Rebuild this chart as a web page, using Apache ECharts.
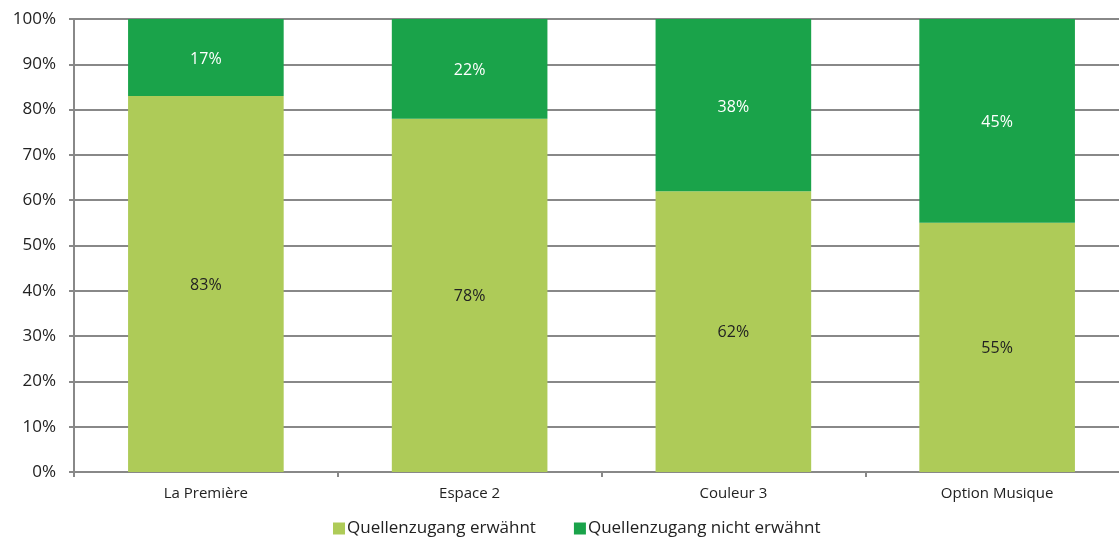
<!DOCTYPE html>
<html><head><meta charset="utf-8">
<script src="https://cdn.jsdelivr.net/npm/echarts@6/dist/echarts.min.js"></script>
<style>html,body{margin:0;padding:0;background:#fff;overflow:hidden;width:1119px;height:539px}#c{width:1130px;height:539px}</style>
</head><body><div id="c"></div>
<script>
const categories = ['La Première', 'Espace 2', 'Couleur 3', 'Option Musique'];
const erwaehnt = [83, 78, 62, 55];
const nichtErwaehnt = [17, 22, 38, 45];
const seriesNames = ['Quellenzugang erwähnt', 'Quellenzugang nicht erwähnt'];
const font = 'Open Sans';
const chart = echarts.init(document.getElementById('c'));
chart.setOption({
  animation: false,
  textStyle: { fontFamily: font },
  grid: { left: 74, right: 1, top: 19, bottom: 67, containLabel: false },
  legend: {
    top: 515, left: 328, itemWidth: 12, itemHeight: 12, itemGap: 38,
    icon: 'rect',
    textStyle: { fontSize: 17, color: '#222', fontFamily: font, padding: [0, 0, 0, -3] },
    data: seriesNames
  },
  xAxis: {
    type: 'category', data: categories,
    axisLine: { lineStyle: { color: '#888', width: 2 } },
    axisTick: { show: true, length: 5, lineStyle: { color: '#888', width: 2 } },
    axisLabel: { fontSize: 15, color: '#222', margin: 14, fontFamily: font }
  },
  yAxis: {
    type: 'value', min: 0, max: 100, interval: 10,
    axisLine: { show: true, lineStyle: { color: '#888', width: 2 } },
    axisTick: { show: true, length: 5, lineStyle: { color: '#888', width: 2 } },
    splitLine: { lineStyle: { color: '#888', width: 2 } },
    axisLabel: { fontSize: 17, color: '#222', margin: 18, formatter: '{value}%', fontFamily: font }
  },
  series: [
    {
      name: seriesNames[0], type: 'bar', stack: 's', data: erwaehnt, barWidth: '59%',
      itemStyle: { color: '#AECB58' },
      label: { show: true, position: 'inside', formatter: '{c}%', fontSize: 16, color: '#222', fontFamily: font, offset: [0, 1] }
    },
    {
      name: seriesNames[1], type: 'bar', stack: 's', data: nichtErwaehnt, barWidth: '59%',
      itemStyle: { color: '#1AA34A' },
      label: { show: true, position: 'inside', formatter: '{c}%', fontSize: 16, color: '#fff', fontFamily: font, offset: [0, 2] }
    }
  ]
});
</script></body></html>
